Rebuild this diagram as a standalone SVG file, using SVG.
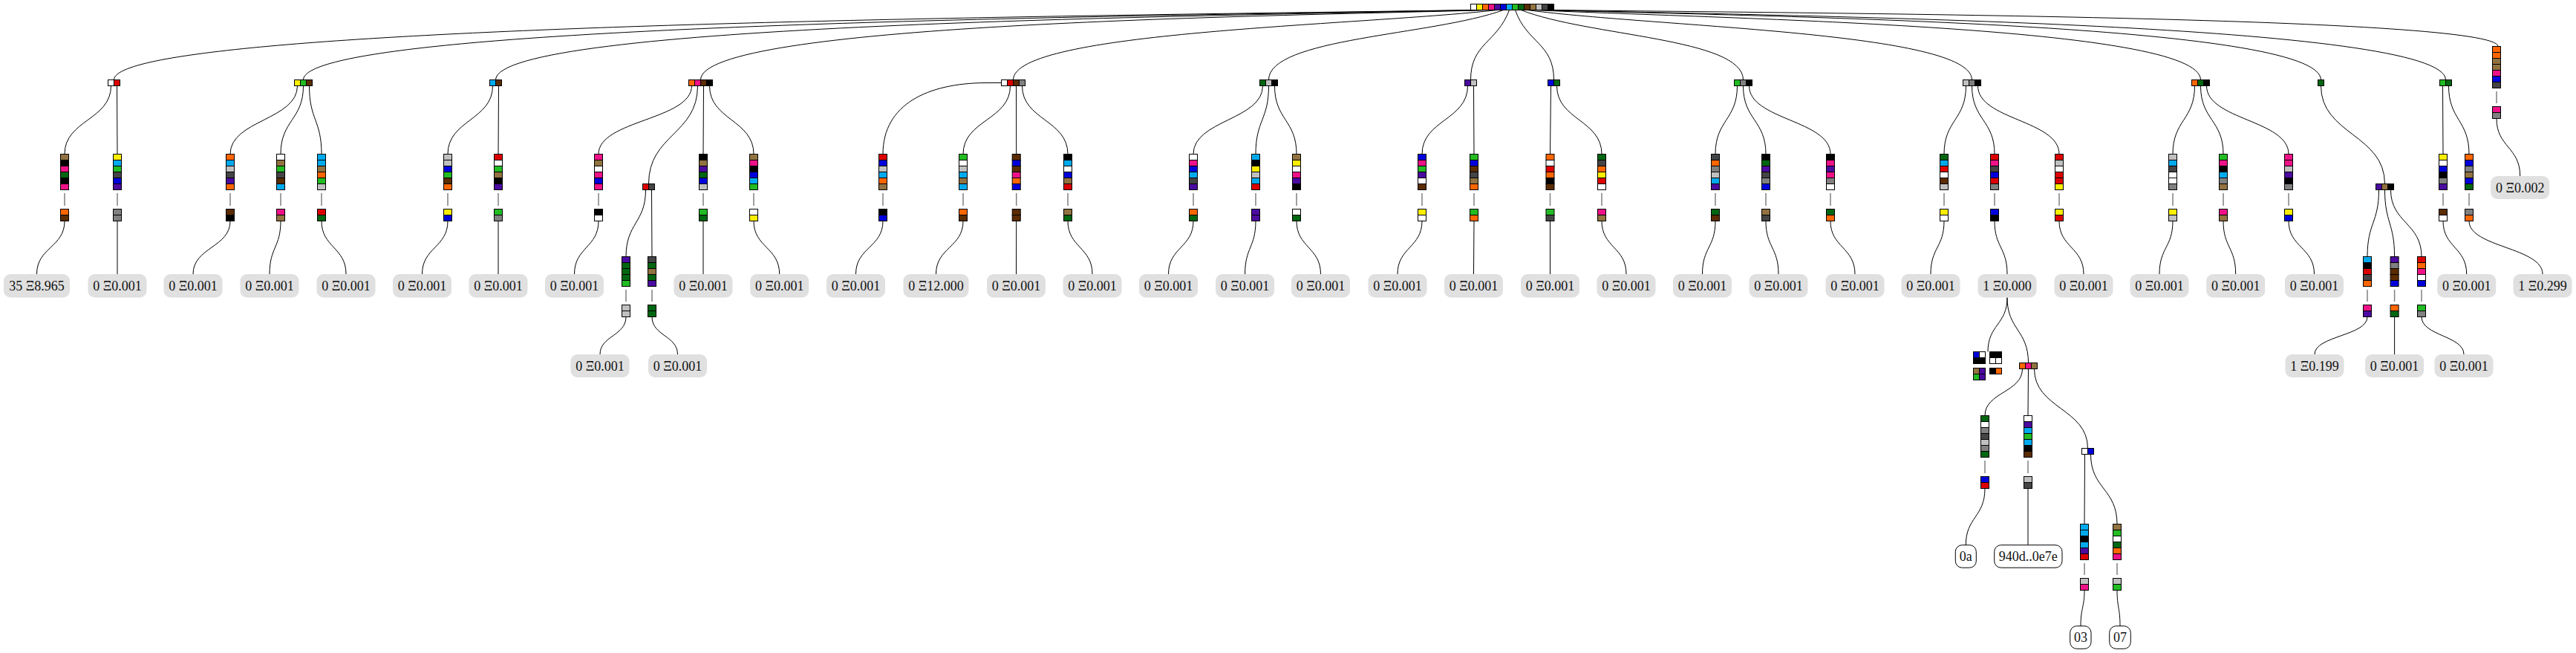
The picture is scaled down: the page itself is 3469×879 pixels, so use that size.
<svg xmlns="http://www.w3.org/2000/svg" width="3469" height="879" viewBox="0 0 3469 879">
<style>
.c{stroke:#000;stroke-width:1}
.W{fill:#fff}.Y{fill:#ffee00}.O{fill:#ff6600}.M{fill:#ee1188}.P{fill:#4b0aa0}.B{fill:#0000dd}.C{fill:#00aaee}.G{fill:#22bb22}.D{fill:#006611}.N{fill:#5a2c00}.T{fill:#917240}.L{fill:#c0c0c0}.A{fill:#808080}.K{fill:#444444}.X{fill:#000}.R{fill:#dd0000}
.e{fill:none;stroke:#000;stroke-width:1}
.sep{stroke:#808080;stroke-width:1.5}
.lb{fill:#e0e0e0}
.lw{fill:#fff;stroke:#000;stroke-width:1}
.t{font-family:"Liberation Serif","Times New Roman",serif;font-size:18px;text-anchor:middle;fill:#111}
</style>
<rect width="3469" height="879" fill="#fff"/>
<g id="edges">
<path class="e" d="M1984.5 13.5 C1435 22 153.5 32 153.5 107.5"/>
<path class="e" d="M1992.5 13.5 C1517 22 408.5 32 408.5 107.5"/>
<path class="e" d="M2000.5 13.5 C1600 22 667.5 32 667.5 107.5"/>
<path class="e" d="M2008.5 13.5 C1689 22 943.5 32 943.5 107.5"/>
<path class="e" d="M2016.5 13.5 C1821 35 1364.5 42 1364.5 107.5"/>
<path class="e" d="M2024.5 13.5 C1929 48 1708.5 51 1708.5 107.5"/>
<path class="e" d="M2032.5 13.5 C2016 58 1980.5 58 1980.5 107.5"/>
<path class="e" d="M2040.5 13.5 C2056 58 2092.5 58 2092.5 107.5"/>
<path class="e" d="M2048.5 13.5 C2138 49 2347.5 51 2347.5 107.5"/>
<path class="e" d="M2056.5 13.5 C2236 37 2655.5 43 2655.5 107.5"/>
<path class="e" d="M2064.5 13.5 C2334 26 2963.5 35 2963.5 107.5"/>
<path class="e" d="M2072.5 13.5 C2387 22 3125.5 32 3125.5 107.5"/>
<path class="e" d="M2080.5 13.5 C2444 22 3293.5 32 3293.5 107.5"/>
<path class="e" d="M2088.5 13.5 C2471 18 3364 23 3364 62.5"/>
<path class="e" d="M149.5 115.5 C149.5 161.5 87 161.5 87 207.5"/>
<path class="e" d="M157.5 115.5 L158 207.5"/>
<path class="e" d="M400.5 115.5 C400.5 161.5 310 161.5 310 207.5"/>
<path class="e" d="M408.5 115.5 C408.5 161.5 378 161.5 378 207.5"/>
<path class="e" d="M416.5 115.5 C416.5 161.5 433 161.5 433 207.5"/>
<path class="e" d="M663.5 115.5 C663.5 161.5 603 161.5 603 207.5"/>
<path class="e" d="M671.5 115.5 L671 207.5"/>
<path class="e" d="M931.5 115.5 C931.5 161.5 806 161.5 806 207.5"/>
<path class="e" d="M939.5 115.5 C939.5 181 873.5 181 873.5 247.5"/>
<path class="e" d="M947.5 115.5 L947 207.5"/>
<path class="e" d="M955.5 115.5 C955.5 161.5 1015 161.5 1015 207.5"/>
<path class="e" d="M1348.5 111.5 L1327 111.5 C1250 112 1189 140 1189 207.5"/>
<path class="e" d="M1360.5 115.5 C1360.5 161.5 1297 161.5 1297 207.5"/>
<path class="e" d="M1368.5 115.5 L1368.7 207.5"/>
<path class="e" d="M1376.5 115.5 C1376.5 161.5 1438 161.5 1438 207.5"/>
<path class="e" d="M1700.5 115.5 C1700.5 161.5 1607 161.5 1607 207.5"/>
<path class="e" d="M1708.5 115.5 C1708.5 161.5 1691 161.5 1691 207.5"/>
<path class="e" d="M1716.5 115.5 C1716.5 161.5 1746 161.5 1746 207.5"/>
<path class="e" d="M1976.5 115.5 C1976.5 161.5 1915 161.5 1915 207.5"/>
<path class="e" d="M1984.5 115.5 L1985 207.5"/>
<path class="e" d="M2088.5 115.5 L2087.5 207.5"/>
<path class="e" d="M2096.5 115.5 C2096.5 161.5 2157 161.5 2157 207.5"/>
<path class="e" d="M2339.5 115.5 C2339.5 161.5 2310 161.5 2310 207.5"/>
<path class="e" d="M2347.5 115.5 C2347.5 161.5 2378 161.5 2378 207.5"/>
<path class="e" d="M2355.5 115.5 C2355.5 161.5 2465 161.5 2465 207.5"/>
<path class="e" d="M2647.5 115.5 C2647.5 161.5 2618 161.5 2618 207.5"/>
<path class="e" d="M2655.5 115.5 C2655.5 161.5 2686 161.5 2686 207.5"/>
<path class="e" d="M2663.5 115.5 C2663.5 161.5 2773 161.5 2773 207.5"/>
<path class="e" d="M2955.5 115.5 C2955.5 161.5 2926 161.5 2926 207.5"/>
<path class="e" d="M2963.5 115.5 C2963.5 161.5 2994 161.5 2994 207.5"/>
<path class="e" d="M2971.5 115.5 C2971.5 161.5 3082 161.5 3082 207.5"/>
<path class="e" d="M3125.5 115.5 C3125.5 181 3211.5 181 3211.5 247.5"/>
<path class="e" d="M3289.5 115.5 L3290 207.5"/>
<path class="e" d="M3297.5 115.5 C3297.5 161.5 3325 161.5 3325 207.5"/>
<path class="e" d="M869.5 255.5 C869.5 300 843 300 843 345.5"/>
<path class="e" d="M877.5 255.5 L878 345.5"/>
<path class="e" d="M3203.5 255.5 C3203.5 300 3188 300 3188 345.5"/>
<path class="e" d="M3211.5 255.5 C3211.5 300 3224.6 300 3224.6 345.5"/>
<path class="e" d="M3219.5 255.5 C3219.5 300 3261 300 3261 345.5"/>
<path class="e" d="M87 297.5 C87 333 49.5 333 49.5 369"/>
<path class="e" d="M158 297.5 L158 369"/>
<path class="e" d="M310 297.5 C310 333 260 333 260 369"/>
<path class="e" d="M378 297.5 C378 333 363 333 363 369"/>
<path class="e" d="M433 297.5 C433 333 466 333 466 369"/>
<path class="e" d="M603 297.5 C603 333 568.5 333 568.5 369"/>
<path class="e" d="M671 297.5 L671 369"/>
<path class="e" d="M806 297.5 C806 333 773.5 333 773.5 369"/>
<path class="e" d="M947 297.5 L947 369"/>
<path class="e" d="M1015 297.5 C1015 333 1049.7 333 1049.7 369"/>
<path class="e" d="M1189 297.5 C1189 333 1152.5 333 1152.5 369"/>
<path class="e" d="M1297 297.5 C1297 333 1260.5 333 1260.5 369"/>
<path class="e" d="M1368.7 297.5 L1368.5 369"/>
<path class="e" d="M1438 297.5 C1438 333 1471 333 1471 369"/>
<path class="e" d="M1607 297.5 C1607 333 1573.5 333 1573.5 369"/>
<path class="e" d="M1691 297.5 C1691 333 1676.6 333 1676.6 369"/>
<path class="e" d="M1746 297.5 C1746 333 1778.5 333 1778.5 369"/>
<path class="e" d="M1915 297.5 C1915 333 1882 333 1882 369"/>
<path class="e" d="M1985 297.5 L1984.5 369"/>
<path class="e" d="M2087.5 297.5 L2087.5 369"/>
<path class="e" d="M2157 297.5 C2157 333 2190 333 2190 369"/>
<path class="e" d="M2310 297.5 C2310 333 2292.5 333 2292.5 369"/>
<path class="e" d="M2378 297.5 C2378 333 2395 333 2395 369"/>
<path class="e" d="M2465 297.5 C2465 333 2498 333 2498 369"/>
<path class="e" d="M2618 297.5 C2618 333 2600 333 2600 369"/>
<path class="e" d="M2686 297.5 C2686 333 2703 333 2703 369"/>
<path class="e" d="M2773 297.5 C2773 333 2806 333 2806 369"/>
<path class="e" d="M2926 297.5 C2926 333 2908 333 2908 369"/>
<path class="e" d="M2994 297.5 C2994 333 3010.7 333 3010.7 369"/>
<path class="e" d="M3082 297.5 C3082 333 3116.5 333 3116.5 369"/>
<path class="e" d="M3290 297.5 C3290 333 3321.7 333 3321.7 369"/>
<path class="e" d="M3325 297.5 C3325 333 3424 333 3424 369"/>
<path class="e" d="M3362 159.5 C3362 198 3393.7 198 3393.7 237"/>
<path class="e" d="M843 426.5 C843 452 808 452 808 477"/>
<path class="e" d="M878 426.5 C878 452 912.5 452 912.5 477"/>
<path class="e" d="M3188 426.5 C3188 452 3117 452 3117 477"/>
<path class="e" d="M3224.6 426.5 L3224.6 477"/>
<path class="e" d="M3261 426.5 C3261 452 3318 452 3318 477"/>
<path class="e" d="M2703 400.5 C2703 437 2677 437 2677 473.5"/>
<path class="e" d="M2703 400.5 C2703 444 2731.5 444 2731.5 488.5"/>
<path class="e" d="M2723.5 496.5 C2723.5 528 2673 528 2673 559.5"/>
<path class="e" d="M2731.5 496.5 L2731 559.5"/>
<path class="e" d="M2739.5 496.5 C2739.5 550 2811.5 550 2811.5 603.5"/>
<path class="e" d="M2807.5 611.5 L2807 705.5"/>
<path class="e" d="M2815.5 611.5 C2815.5 658 2851 658 2851 705.5"/>
<path class="e" d="M2673 657.5 C2673 696 2647.3 696 2647.3 733.7"/>
<path class="e" d="M2731 657.5 L2731 733.7"/>
<path class="e" d="M2807 794.5 C2807 818 2802 818 2802 842.7"/>
<path class="e" d="M2851 794.5 C2851 818 2855 818 2855 842.7"/>
</g>
<g id="root">
<rect class="c W" x="1980.5" y="5.5" width="8" height="8"/><rect class="c Y" x="1988.5" y="5.5" width="8" height="8"/><rect class="c O" x="1996.5" y="5.5" width="8" height="8"/><rect class="c M" x="2004.5" y="5.5" width="8" height="8"/><rect class="c P" x="2012.5" y="5.5" width="8" height="8"/><rect class="c B" x="2020.5" y="5.5" width="8" height="8"/><rect class="c C" x="2028.5" y="5.5" width="8" height="8"/><rect class="c G" x="2036.5" y="5.5" width="8" height="8"/><rect class="c D" x="2044.5" y="5.5" width="8" height="8"/><rect class="c N" x="2052.5" y="5.5" width="8" height="8"/><rect class="c T" x="2060.5" y="5.5" width="8" height="8"/><rect class="c L" x="2068.5" y="5.5" width="8" height="8"/><rect class="c K" x="2076.5" y="5.5" width="8" height="8"/><rect class="c X" x="2084.5" y="5.5" width="8" height="8"/>
</g>
<g id="n1"><rect class="c W" x="145.5" y="107.5" width="8" height="8"/><rect class="c R" x="153.5" y="107.5" width="8" height="8"/></g>
<g id="n2"><rect class="c Y" x="396.5" y="107.5" width="8" height="8"/><rect class="c G" x="404.5" y="107.5" width="8" height="8"/><rect class="c N" x="412.5" y="107.5" width="8" height="8"/></g>
<g id="n3"><rect class="c C" x="659.5" y="107.5" width="8" height="8"/><rect class="c N" x="667.5" y="107.5" width="8" height="8"/></g>
<g id="n4"><rect class="c O" x="927.5" y="107.5" width="8" height="8"/><rect class="c M" x="935.5" y="107.5" width="8" height="8"/><rect class="c N" x="943.5" y="107.5" width="8" height="8"/><rect class="c X" x="951.5" y="107.5" width="8" height="8"/></g>
<g id="n5"><rect class="c W" x="1348.5" y="107.5" width="8" height="8"/><rect class="c R" x="1356.5" y="107.5" width="8" height="8"/><rect class="c N" x="1364.5" y="107.5" width="8" height="8"/><rect class="c A" x="1372.5" y="107.5" width="8" height="8"/></g>
<g id="n6"><rect class="c D" x="1696.5" y="107.5" width="8" height="8"/><rect class="c L" x="1704.5" y="107.5" width="8" height="8"/><rect class="c X" x="1712.5" y="107.5" width="8" height="8"/></g>
<g id="n7"><rect class="c P" x="1972.5" y="107.5" width="8" height="8"/><rect class="c L" x="1980.5" y="107.5" width="8" height="8"/></g>
<g id="n8"><rect class="c B" x="2084.5" y="107.5" width="8" height="8"/><rect class="c D" x="2092.5" y="107.5" width="8" height="8"/></g>
<g id="n9"><rect class="c G" x="2335.5" y="107.5" width="8" height="8"/><rect class="c A" x="2343.5" y="107.5" width="8" height="8"/><rect class="c X" x="2351.5" y="107.5" width="8" height="8"/></g>
<g id="n10"><rect class="c L" x="2643.5" y="107.5" width="8" height="8"/><rect class="c A" x="2651.5" y="107.5" width="8" height="8"/><rect class="c X" x="2659.5" y="107.5" width="8" height="8"/></g>
<g id="n11"><rect class="c O" x="2951.5" y="107.5" width="8" height="8"/><rect class="c D" x="2959.5" y="107.5" width="8" height="8"/><rect class="c X" x="2967.5" y="107.5" width="8" height="8"/></g>
<g id="n12"><rect class="c D" x="3121.5" y="107.5" width="8" height="8"/></g>
<g id="n13"><rect class="c G" x="3285.5" y="107.5" width="8" height="8"/><rect class="c D" x="3293.5" y="107.5" width="8" height="8"/></g>
<g id="d2"><rect class="c R" x="865.5" y="247.5" width="8" height="8"/><rect class="c K" x="873.5" y="247.5" width="8" height="8"/></g>
<g id="o"><rect class="c P" x="3199.5" y="247.5" width="8" height="8"/><rect class="c T" x="3207.5" y="247.5" width="8" height="8"/><rect class="c X" x="3215.5" y="247.5" width="8" height="8"/></g>
<g id="s14" transform="translate(3362,0)"><rect class="c O" x="-5.5" y="62.5" width="11" height="8"/><rect class="c O" x="-5.5" y="70.5" width="11" height="8"/><rect class="c T" x="-5.5" y="78.5" width="11" height="8"/><rect class="c T" x="-5.5" y="86.5" width="11" height="8"/><rect class="c M" x="-5.5" y="94.5" width="11" height="8"/><rect class="c B" x="-5.5" y="102.5" width="11" height="8"/><rect class="c K" x="-5.5" y="110.5" width="11" height="8"/><line class="sep" x1="0" y1="123" x2="0" y2="139"/><rect class="c M" x="-5.5" y="143.5" width="11" height="8"/><rect class="c A" x="-5.5" y="151.5" width="11" height="8"/></g>
<g id="a1" transform="translate(87,0)"><rect class="c T" x="-5.5" y="207.5" width="11" height="8"/><rect class="c X" x="-5.5" y="215.5" width="11" height="8"/><rect class="c M" x="-5.5" y="223.5" width="11" height="8"/><rect class="c D" x="-5.5" y="231.5" width="11" height="8"/><rect class="c X" x="-5.5" y="239.5" width="11" height="8"/><rect class="c M" x="-5.5" y="247.5" width="11" height="8"/><line class="sep" x1="0" y1="260" x2="0" y2="277"/><rect class="c O" x="-5.5" y="281.5" width="11" height="8"/><rect class="c N" x="-5.5" y="289.5" width="11" height="8"/></g>
<g id="a2" transform="translate(158,0)"><rect class="c Y" x="-5.5" y="207.5" width="11" height="8"/><rect class="c C" x="-5.5" y="215.5" width="11" height="8"/><rect class="c G" x="-5.5" y="223.5" width="11" height="8"/><rect class="c K" x="-5.5" y="231.5" width="11" height="8"/><rect class="c B" x="-5.5" y="239.5" width="11" height="8"/><rect class="c P" x="-5.5" y="247.5" width="11" height="8"/><line class="sep" x1="0" y1="260" x2="0" y2="277"/><rect class="c A" x="-5.5" y="281.5" width="11" height="8"/><rect class="c A" x="-5.5" y="289.5" width="11" height="8"/></g>
<g id="b1" transform="translate(310,0)"><rect class="c O" x="-5.5" y="207.5" width="11" height="8"/><rect class="c C" x="-5.5" y="215.5" width="11" height="8"/><rect class="c L" x="-5.5" y="223.5" width="11" height="8"/><rect class="c K" x="-5.5" y="231.5" width="11" height="8"/><rect class="c P" x="-5.5" y="239.5" width="11" height="8"/><rect class="c O" x="-5.5" y="247.5" width="11" height="8"/><line class="sep" x1="0" y1="260" x2="0" y2="277"/><rect class="c N" x="-5.5" y="281.5" width="11" height="8"/><rect class="c X" x="-5.5" y="289.5" width="11" height="8"/></g>
<g id="b2" transform="translate(378,0)"><rect class="c W" x="-5.5" y="207.5" width="11" height="8"/><rect class="c T" x="-5.5" y="215.5" width="11" height="8"/><rect class="c G" x="-5.5" y="223.5" width="11" height="8"/><rect class="c K" x="-5.5" y="231.5" width="11" height="8"/><rect class="c N" x="-5.5" y="239.5" width="11" height="8"/><rect class="c C" x="-5.5" y="247.5" width="11" height="8"/><line class="sep" x1="0" y1="260" x2="0" y2="277"/><rect class="c M" x="-5.5" y="281.5" width="11" height="8"/><rect class="c T" x="-5.5" y="289.5" width="11" height="8"/></g>
<g id="b3" transform="translate(433,0)"><rect class="c C" x="-5.5" y="207.5" width="11" height="8"/><rect class="c C" x="-5.5" y="215.5" width="11" height="8"/><rect class="c T" x="-5.5" y="223.5" width="11" height="8"/><rect class="c O" x="-5.5" y="231.5" width="11" height="8"/><rect class="c G" x="-5.5" y="239.5" width="11" height="8"/><rect class="c L" x="-5.5" y="247.5" width="11" height="8"/><line class="sep" x1="0" y1="260" x2="0" y2="277"/><rect class="c R" x="-5.5" y="281.5" width="11" height="8"/><rect class="c D" x="-5.5" y="289.5" width="11" height="8"/></g>
<g id="c1" transform="translate(603,0)"><rect class="c L" x="-5.5" y="207.5" width="11" height="8"/><rect class="c L" x="-5.5" y="215.5" width="11" height="8"/><rect class="c B" x="-5.5" y="223.5" width="11" height="8"/><rect class="c G" x="-5.5" y="231.5" width="11" height="8"/><rect class="c N" x="-5.5" y="239.5" width="11" height="8"/><rect class="c O" x="-5.5" y="247.5" width="11" height="8"/><line class="sep" x1="0" y1="260" x2="0" y2="277"/><rect class="c Y" x="-5.5" y="281.5" width="11" height="8"/><rect class="c B" x="-5.5" y="289.5" width="11" height="8"/></g>
<g id="c2" transform="translate(671,0)"><rect class="c R" x="-5.5" y="207.5" width="11" height="8"/><rect class="c W" x="-5.5" y="215.5" width="11" height="8"/><rect class="c G" x="-5.5" y="223.5" width="11" height="8"/><rect class="c T" x="-5.5" y="231.5" width="11" height="8"/><rect class="c X" x="-5.5" y="239.5" width="11" height="8"/><rect class="c P" x="-5.5" y="247.5" width="11" height="8"/><line class="sep" x1="0" y1="260" x2="0" y2="277"/><rect class="c G" x="-5.5" y="281.5" width="11" height="8"/><rect class="c A" x="-5.5" y="289.5" width="11" height="8"/></g>
<g id="d1" transform="translate(806,0)"><rect class="c M" x="-5.5" y="207.5" width="11" height="8"/><rect class="c T" x="-5.5" y="215.5" width="11" height="8"/><rect class="c W" x="-5.5" y="223.5" width="11" height="8"/><rect class="c M" x="-5.5" y="231.5" width="11" height="8"/><rect class="c B" x="-5.5" y="239.5" width="11" height="8"/><rect class="c M" x="-5.5" y="247.5" width="11" height="8"/><line class="sep" x1="0" y1="260" x2="0" y2="277"/><rect class="c X" x="-5.5" y="281.5" width="11" height="8"/><rect class="c W" x="-5.5" y="289.5" width="11" height="8"/></g>
<g id="d3" transform="translate(947,0)"><rect class="c X" x="-5.5" y="207.5" width="11" height="8"/><rect class="c T" x="-5.5" y="215.5" width="11" height="8"/><rect class="c P" x="-5.5" y="223.5" width="11" height="8"/><rect class="c D" x="-5.5" y="231.5" width="11" height="8"/><rect class="c B" x="-5.5" y="239.5" width="11" height="8"/><rect class="c L" x="-5.5" y="247.5" width="11" height="8"/><line class="sep" x1="0" y1="260" x2="0" y2="277"/><rect class="c G" x="-5.5" y="281.5" width="11" height="8"/><rect class="c D" x="-5.5" y="289.5" width="11" height="8"/></g>
<g id="d4" transform="translate(1015,0)"><rect class="c T" x="-5.5" y="207.5" width="11" height="8"/><rect class="c M" x="-5.5" y="215.5" width="11" height="8"/><rect class="c X" x="-5.5" y="223.5" width="11" height="8"/><rect class="c B" x="-5.5" y="231.5" width="11" height="8"/><rect class="c C" x="-5.5" y="239.5" width="11" height="8"/><rect class="c G" x="-5.5" y="247.5" width="11" height="8"/><line class="sep" x1="0" y1="260" x2="0" y2="277"/><rect class="c W" x="-5.5" y="281.5" width="11" height="8"/><rect class="c Y" x="-5.5" y="289.5" width="11" height="8"/></g>
<g id="e1" transform="translate(1189,0)"><rect class="c R" x="-5.5" y="207.5" width="11" height="8"/><rect class="c B" x="-5.5" y="215.5" width="11" height="8"/><rect class="c L" x="-5.5" y="223.5" width="11" height="8"/><rect class="c C" x="-5.5" y="231.5" width="11" height="8"/><rect class="c O" x="-5.5" y="239.5" width="11" height="8"/><rect class="c T" x="-5.5" y="247.5" width="11" height="8"/><line class="sep" x1="0" y1="260" x2="0" y2="277"/><rect class="c X" x="-5.5" y="281.5" width="11" height="8"/><rect class="c B" x="-5.5" y="289.5" width="11" height="8"/></g>
<g id="e2" transform="translate(1297,0)"><rect class="c G" x="-5.5" y="207.5" width="11" height="8"/><rect class="c W" x="-5.5" y="215.5" width="11" height="8"/><rect class="c L" x="-5.5" y="223.5" width="11" height="8"/><rect class="c C" x="-5.5" y="231.5" width="11" height="8"/><rect class="c T" x="-5.5" y="239.5" width="11" height="8"/><rect class="c C" x="-5.5" y="247.5" width="11" height="8"/><line class="sep" x1="0" y1="260" x2="0" y2="277"/><rect class="c O" x="-5.5" y="281.5" width="11" height="8"/><rect class="c N" x="-5.5" y="289.5" width="11" height="8"/></g>
<g id="e3" transform="translate(1368.7,0)"><rect class="c N" x="-5.5" y="207.5" width="11" height="8"/><rect class="c B" x="-5.5" y="215.5" width="11" height="8"/><rect class="c N" x="-5.5" y="223.5" width="11" height="8"/><rect class="c M" x="-5.5" y="231.5" width="11" height="8"/><rect class="c O" x="-5.5" y="239.5" width="11" height="8"/><rect class="c B" x="-5.5" y="247.5" width="11" height="8"/><line class="sep" x1="0" y1="260" x2="0" y2="277"/><rect class="c N" x="-5.5" y="281.5" width="11" height="8"/><rect class="c N" x="-5.5" y="289.5" width="11" height="8"/></g>
<g id="e4" transform="translate(1438,0)"><rect class="c X" x="-5.5" y="207.5" width="11" height="8"/><rect class="c C" x="-5.5" y="215.5" width="11" height="8"/><rect class="c W" x="-5.5" y="223.5" width="11" height="8"/><rect class="c B" x="-5.5" y="231.5" width="11" height="8"/><rect class="c T" x="-5.5" y="239.5" width="11" height="8"/><rect class="c R" x="-5.5" y="247.5" width="11" height="8"/><line class="sep" x1="0" y1="260" x2="0" y2="277"/><rect class="c T" x="-5.5" y="281.5" width="11" height="8"/><rect class="c D" x="-5.5" y="289.5" width="11" height="8"/></g>
<g id="f1" transform="translate(1607,0)"><rect class="c W" x="-5.5" y="207.5" width="11" height="8"/><rect class="c M" x="-5.5" y="215.5" width="11" height="8"/><rect class="c B" x="-5.5" y="223.5" width="11" height="8"/><rect class="c C" x="-5.5" y="231.5" width="11" height="8"/><rect class="c K" x="-5.5" y="239.5" width="11" height="8"/><rect class="c P" x="-5.5" y="247.5" width="11" height="8"/><line class="sep" x1="0" y1="260" x2="0" y2="277"/><rect class="c O" x="-5.5" y="281.5" width="11" height="8"/><rect class="c D" x="-5.5" y="289.5" width="11" height="8"/></g>
<g id="f2" transform="translate(1691,0)"><rect class="c C" x="-5.5" y="207.5" width="11" height="8"/><rect class="c X" x="-5.5" y="215.5" width="11" height="8"/><rect class="c Y" x="-5.5" y="223.5" width="11" height="8"/><rect class="c L" x="-5.5" y="231.5" width="11" height="8"/><rect class="c C" x="-5.5" y="239.5" width="11" height="8"/><rect class="c R" x="-5.5" y="247.5" width="11" height="8"/><line class="sep" x1="0" y1="260" x2="0" y2="277"/><rect class="c P" x="-5.5" y="281.5" width="11" height="8"/><rect class="c P" x="-5.5" y="289.5" width="11" height="8"/></g>
<g id="f3" transform="translate(1746,0)"><rect class="c T" x="-5.5" y="207.5" width="11" height="8"/><rect class="c Y" x="-5.5" y="215.5" width="11" height="8"/><rect class="c W" x="-5.5" y="223.5" width="11" height="8"/><rect class="c M" x="-5.5" y="231.5" width="11" height="8"/><rect class="c P" x="-5.5" y="239.5" width="11" height="8"/><rect class="c X" x="-5.5" y="247.5" width="11" height="8"/><line class="sep" x1="0" y1="260" x2="0" y2="277"/><rect class="c W" x="-5.5" y="281.5" width="11" height="8"/><rect class="c D" x="-5.5" y="289.5" width="11" height="8"/></g>
<g id="g1" transform="translate(1915,0)"><rect class="c B" x="-5.5" y="207.5" width="11" height="8"/><rect class="c M" x="-5.5" y="215.5" width="11" height="8"/><rect class="c G" x="-5.5" y="223.5" width="11" height="8"/><rect class="c P" x="-5.5" y="231.5" width="11" height="8"/><rect class="c W" x="-5.5" y="239.5" width="11" height="8"/><rect class="c N" x="-5.5" y="247.5" width="11" height="8"/><line class="sep" x1="0" y1="260" x2="0" y2="277"/><rect class="c Y" x="-5.5" y="281.5" width="11" height="8"/><rect class="c W" x="-5.5" y="289.5" width="11" height="8"/></g>
<g id="g2" transform="translate(1985,0)"><rect class="c G" x="-5.5" y="207.5" width="11" height="8"/><rect class="c B" x="-5.5" y="215.5" width="11" height="8"/><rect class="c N" x="-5.5" y="223.5" width="11" height="8"/><rect class="c K" x="-5.5" y="231.5" width="11" height="8"/><rect class="c T" x="-5.5" y="239.5" width="11" height="8"/><rect class="c O" x="-5.5" y="247.5" width="11" height="8"/><line class="sep" x1="0" y1="260" x2="0" y2="277"/><rect class="c G" x="-5.5" y="281.5" width="11" height="8"/><rect class="c O" x="-5.5" y="289.5" width="11" height="8"/></g>
<g id="h1" transform="translate(2087.5,0)"><rect class="c O" x="-5.5" y="207.5" width="11" height="8"/><rect class="c W" x="-5.5" y="215.5" width="11" height="8"/><rect class="c R" x="-5.5" y="223.5" width="11" height="8"/><rect class="c O" x="-5.5" y="231.5" width="11" height="8"/><rect class="c X" x="-5.5" y="239.5" width="11" height="8"/><rect class="c N" x="-5.5" y="247.5" width="11" height="8"/><line class="sep" x1="0" y1="260" x2="0" y2="277"/><rect class="c G" x="-5.5" y="281.5" width="11" height="8"/><rect class="c K" x="-5.5" y="289.5" width="11" height="8"/></g>
<g id="h2" transform="translate(2157,0)"><rect class="c D" x="-5.5" y="207.5" width="11" height="8"/><rect class="c K" x="-5.5" y="215.5" width="11" height="8"/><rect class="c O" x="-5.5" y="223.5" width="11" height="8"/><rect class="c Y" x="-5.5" y="231.5" width="11" height="8"/><rect class="c R" x="-5.5" y="239.5" width="11" height="8"/><rect class="c W" x="-5.5" y="247.5" width="11" height="8"/><line class="sep" x1="0" y1="260" x2="0" y2="277"/><rect class="c M" x="-5.5" y="281.5" width="11" height="8"/><rect class="c T" x="-5.5" y="289.5" width="11" height="8"/></g>
<g id="i1" transform="translate(2310,0)"><rect class="c K" x="-5.5" y="207.5" width="11" height="8"/><rect class="c O" x="-5.5" y="215.5" width="11" height="8"/><rect class="c A" x="-5.5" y="223.5" width="11" height="8"/><rect class="c L" x="-5.5" y="231.5" width="11" height="8"/><rect class="c C" x="-5.5" y="239.5" width="11" height="8"/><rect class="c P" x="-5.5" y="247.5" width="11" height="8"/><line class="sep" x1="0" y1="260" x2="0" y2="277"/><rect class="c D" x="-5.5" y="281.5" width="11" height="8"/><rect class="c N" x="-5.5" y="289.5" width="11" height="8"/></g>
<g id="i2" transform="translate(2378,0)"><rect class="c X" x="-5.5" y="207.5" width="11" height="8"/><rect class="c D" x="-5.5" y="215.5" width="11" height="8"/><rect class="c P" x="-5.5" y="223.5" width="11" height="8"/><rect class="c K" x="-5.5" y="231.5" width="11" height="8"/><rect class="c A" x="-5.5" y="239.5" width="11" height="8"/><rect class="c B" x="-5.5" y="247.5" width="11" height="8"/><line class="sep" x1="0" y1="260" x2="0" y2="277"/><rect class="c T" x="-5.5" y="281.5" width="11" height="8"/><rect class="c K" x="-5.5" y="289.5" width="11" height="8"/></g>
<g id="i3" transform="translate(2465,0)"><rect class="c X" x="-5.5" y="207.5" width="11" height="8"/><rect class="c M" x="-5.5" y="215.5" width="11" height="8"/><rect class="c P" x="-5.5" y="223.5" width="11" height="8"/><rect class="c M" x="-5.5" y="231.5" width="11" height="8"/><rect class="c A" x="-5.5" y="239.5" width="11" height="8"/><rect class="c W" x="-5.5" y="247.5" width="11" height="8"/><line class="sep" x1="0" y1="260" x2="0" y2="277"/><rect class="c D" x="-5.5" y="281.5" width="11" height="8"/><rect class="c O" x="-5.5" y="289.5" width="11" height="8"/></g>
<g id="j1" transform="translate(2618,0)"><rect class="c D" x="-5.5" y="207.5" width="11" height="8"/><rect class="c C" x="-5.5" y="215.5" width="11" height="8"/><rect class="c R" x="-5.5" y="223.5" width="11" height="8"/><rect class="c W" x="-5.5" y="231.5" width="11" height="8"/><rect class="c N" x="-5.5" y="239.5" width="11" height="8"/><rect class="c L" x="-5.5" y="247.5" width="11" height="8"/><line class="sep" x1="0" y1="260" x2="0" y2="277"/><rect class="c Y" x="-5.5" y="281.5" width="11" height="8"/><rect class="c W" x="-5.5" y="289.5" width="11" height="8"/></g>
<g id="j2" transform="translate(2686,0)"><rect class="c R" x="-5.5" y="207.5" width="11" height="8"/><rect class="c M" x="-5.5" y="215.5" width="11" height="8"/><rect class="c K" x="-5.5" y="223.5" width="11" height="8"/><rect class="c B" x="-5.5" y="231.5" width="11" height="8"/><rect class="c R" x="-5.5" y="239.5" width="11" height="8"/><rect class="c A" x="-5.5" y="247.5" width="11" height="8"/><line class="sep" x1="0" y1="260" x2="0" y2="277"/><rect class="c B" x="-5.5" y="281.5" width="11" height="8"/><rect class="c X" x="-5.5" y="289.5" width="11" height="8"/></g>
<g id="j3" transform="translate(2773,0)"><rect class="c R" x="-5.5" y="207.5" width="11" height="8"/><rect class="c L" x="-5.5" y="215.5" width="11" height="8"/><rect class="c W" x="-5.5" y="223.5" width="11" height="8"/><rect class="c R" x="-5.5" y="231.5" width="11" height="8"/><rect class="c R" x="-5.5" y="239.5" width="11" height="8"/><rect class="c Y" x="-5.5" y="247.5" width="11" height="8"/><line class="sep" x1="0" y1="260" x2="0" y2="277"/><rect class="c Y" x="-5.5" y="281.5" width="11" height="8"/><rect class="c R" x="-5.5" y="289.5" width="11" height="8"/></g>
<g id="k1" transform="translate(2926,0)"><rect class="c L" x="-5.5" y="207.5" width="11" height="8"/><rect class="c C" x="-5.5" y="215.5" width="11" height="8"/><rect class="c K" x="-5.5" y="223.5" width="11" height="8"/><rect class="c W" x="-5.5" y="231.5" width="11" height="8"/><rect class="c W" x="-5.5" y="239.5" width="11" height="8"/><rect class="c A" x="-5.5" y="247.5" width="11" height="8"/><line class="sep" x1="0" y1="260" x2="0" y2="277"/><rect class="c Y" x="-5.5" y="281.5" width="11" height="8"/><rect class="c L" x="-5.5" y="289.5" width="11" height="8"/></g>
<g id="k2" transform="translate(2994,0)"><rect class="c G" x="-5.5" y="207.5" width="11" height="8"/><rect class="c M" x="-5.5" y="215.5" width="11" height="8"/><rect class="c X" x="-5.5" y="223.5" width="11" height="8"/><rect class="c C" x="-5.5" y="231.5" width="11" height="8"/><rect class="c A" x="-5.5" y="239.5" width="11" height="8"/><rect class="c T" x="-5.5" y="247.5" width="11" height="8"/><line class="sep" x1="0" y1="260" x2="0" y2="277"/><rect class="c M" x="-5.5" y="281.5" width="11" height="8"/><rect class="c T" x="-5.5" y="289.5" width="11" height="8"/></g>
<g id="k3" transform="translate(3082,0)"><rect class="c M" x="-5.5" y="207.5" width="11" height="8"/><rect class="c M" x="-5.5" y="215.5" width="11" height="8"/><rect class="c L" x="-5.5" y="223.5" width="11" height="8"/><rect class="c P" x="-5.5" y="231.5" width="11" height="8"/><rect class="c X" x="-5.5" y="239.5" width="11" height="8"/><rect class="c A" x="-5.5" y="247.5" width="11" height="8"/><line class="sep" x1="0" y1="260" x2="0" y2="277"/><rect class="c Y" x="-5.5" y="281.5" width="11" height="8"/><rect class="c B" x="-5.5" y="289.5" width="11" height="8"/></g>
<g id="p1" transform="translate(3290,0)"><rect class="c Y" x="-5.5" y="207.5" width="11" height="8"/><rect class="c W" x="-5.5" y="215.5" width="11" height="8"/><rect class="c B" x="-5.5" y="223.5" width="11" height="8"/><rect class="c X" x="-5.5" y="231.5" width="11" height="8"/><rect class="c A" x="-5.5" y="239.5" width="11" height="8"/><rect class="c P" x="-5.5" y="247.5" width="11" height="8"/><line class="sep" x1="0" y1="260" x2="0" y2="277"/><rect class="c N" x="-5.5" y="281.5" width="11" height="8"/><rect class="c W" x="-5.5" y="289.5" width="11" height="8"/></g>
<g id="p2" transform="translate(3325,0)"><rect class="c O" x="-5.5" y="207.5" width="11" height="8"/><rect class="c B" x="-5.5" y="215.5" width="11" height="8"/><rect class="c A" x="-5.5" y="223.5" width="11" height="8"/><rect class="c T" x="-5.5" y="231.5" width="11" height="8"/><rect class="c B" x="-5.5" y="239.5" width="11" height="8"/><rect class="c D" x="-5.5" y="247.5" width="11" height="8"/><line class="sep" x1="0" y1="260" x2="0" y2="277"/><rect class="c A" x="-5.5" y="281.5" width="11" height="8"/><rect class="c O" x="-5.5" y="289.5" width="11" height="8"/></g>
<g id="d2a" transform="translate(843,0)"><rect class="c P" x="-5.5" y="345.5" width="11" height="8"/><rect class="c D" x="-5.5" y="353.5" width="11" height="8"/><rect class="c D" x="-5.5" y="361.5" width="11" height="8"/><rect class="c D" x="-5.5" y="369.5" width="11" height="8"/><rect class="c G" x="-5.5" y="377.5" width="11" height="8"/><line class="sep" x1="0" y1="390" x2="0" y2="406"/><rect class="c L" x="-5.5" y="410.5" width="11" height="8"/><rect class="c L" x="-5.5" y="418.5" width="11" height="8"/></g>
<g id="d2b" transform="translate(878,0)"><rect class="c K" x="-5.5" y="345.5" width="11" height="8"/><rect class="c D" x="-5.5" y="353.5" width="11" height="8"/><rect class="c T" x="-5.5" y="361.5" width="11" height="8"/><rect class="c D" x="-5.5" y="369.5" width="11" height="8"/><rect class="c P" x="-5.5" y="377.5" width="11" height="8"/><line class="sep" x1="0" y1="390" x2="0" y2="406"/><rect class="c D" x="-5.5" y="410.5" width="11" height="8"/><rect class="c D" x="-5.5" y="418.5" width="11" height="8"/></g>
<g id="o1" transform="translate(3188,0)"><rect class="c C" x="-5.5" y="345.5" width="11" height="8"/><rect class="c X" x="-5.5" y="353.5" width="11" height="8"/><rect class="c R" x="-5.5" y="361.5" width="11" height="8"/><rect class="c K" x="-5.5" y="369.5" width="11" height="8"/><rect class="c O" x="-5.5" y="377.5" width="11" height="8"/><line class="sep" x1="0" y1="390" x2="0" y2="406"/><rect class="c M" x="-5.5" y="410.5" width="11" height="8"/><rect class="c P" x="-5.5" y="418.5" width="11" height="8"/></g>
<g id="o2" transform="translate(3224.6,0)"><rect class="c P" x="-5.5" y="345.5" width="11" height="8"/><rect class="c A" x="-5.5" y="353.5" width="11" height="8"/><rect class="c N" x="-5.5" y="361.5" width="11" height="8"/><rect class="c N" x="-5.5" y="369.5" width="11" height="8"/><rect class="c B" x="-5.5" y="377.5" width="11" height="8"/><line class="sep" x1="0" y1="390" x2="0" y2="406"/><rect class="c O" x="-5.5" y="410.5" width="11" height="8"/><rect class="c D" x="-5.5" y="418.5" width="11" height="8"/></g>
<g id="o3" transform="translate(3261,0)"><rect class="c R" x="-5.5" y="345.5" width="11" height="8"/><rect class="c O" x="-5.5" y="353.5" width="11" height="8"/><rect class="c M" x="-5.5" y="361.5" width="11" height="8"/><rect class="c W" x="-5.5" y="369.5" width="11" height="8"/><rect class="c B" x="-5.5" y="377.5" width="11" height="8"/><line class="sep" x1="0" y1="390" x2="0" y2="406"/><rect class="c G" x="-5.5" y="410.5" width="11" height="8"/><rect class="c A" x="-5.5" y="418.5" width="11" height="8"/></g>
<g id="grid">
<rect class="c B" x="2657.5" y="473.5" width="8" height="8"/><rect class="c W" x="2665.5" y="473.5" width="8" height="8"/><rect class="c X" x="2657.5" y="481.5" width="16" height="8"/>
<rect class="c X" x="2679.5" y="473.5" width="16" height="8"/><rect class="c W" x="2679.5" y="481.5" width="8" height="8"/><rect class="c W" x="2687.5" y="481.5" width="8" height="8"/>
<rect class="c T" x="2657.5" y="495.5" width="8" height="8"/><rect class="c P" x="2665.5" y="495.5" width="8" height="8"/><rect class="c G" x="2657.5" y="503.5" width="8" height="8"/><rect class="c P" x="2665.5" y="503.5" width="8" height="8"/>
<rect class="c X" x="2679.5" y="495.5" width="8" height="8"/><rect class="c O" x="2687.5" y="495.5" width="8" height="8"/>
</g>
<g id="k2n"><rect class="c O" x="2719.5" y="488.5" width="8" height="8"/><rect class="c M" x="2727.5" y="488.5" width="8" height="8"/><rect class="c T" x="2735.5" y="488.5" width="8" height="8"/></g>
<g id="l1" transform="translate(2673,0)"><rect class="c D" x="-5.5" y="559.5" width="11" height="8"/><rect class="c W" x="-5.5" y="567.5" width="11" height="8"/><rect class="c A" x="-5.5" y="575.5" width="11" height="8"/><rect class="c K" x="-5.5" y="583.5" width="11" height="8"/><rect class="c L" x="-5.5" y="591.5" width="11" height="8"/><rect class="c A" x="-5.5" y="599.5" width="11" height="8"/><rect class="c D" x="-5.5" y="607.5" width="11" height="8"/><line class="sep" x1="0" y1="620" x2="0" y2="637"/><rect class="c B" x="-5.5" y="641.5" width="11" height="8"/><rect class="c R" x="-5.5" y="649.5" width="11" height="8"/></g>
<g id="l2" transform="translate(2731,0)"><rect class="c W" x="-5.5" y="559.5" width="11" height="8"/><rect class="c P" x="-5.5" y="567.5" width="11" height="8"/><rect class="c C" x="-5.5" y="575.5" width="11" height="8"/><rect class="c G" x="-5.5" y="583.5" width="11" height="8"/><rect class="c C" x="-5.5" y="591.5" width="11" height="8"/><rect class="c X" x="-5.5" y="599.5" width="11" height="8"/><rect class="c N" x="-5.5" y="607.5" width="11" height="8"/><line class="sep" x1="0" y1="620" x2="0" y2="637"/><rect class="c L" x="-5.5" y="641.5" width="11" height="8"/><rect class="c K" x="-5.5" y="649.5" width="11" height="8"/></g>
<g id="l3"><rect class="c W" x="2803.5" y="603.5" width="8" height="8"/><rect class="c B" x="2811.5" y="603.5" width="8" height="8"/></g>
<g id="m1" transform="translate(2807,0)"><rect class="c C" x="-5.5" y="705.5" width="11" height="8"/><rect class="c C" x="-5.5" y="713.5" width="11" height="8"/><rect class="c X" x="-5.5" y="721.5" width="11" height="8"/><rect class="c C" x="-5.5" y="729.5" width="11" height="8"/><rect class="c P" x="-5.5" y="737.5" width="11" height="8"/><rect class="c R" x="-5.5" y="745.5" width="11" height="8"/><line class="sep" x1="0" y1="758" x2="0" y2="774"/><rect class="c L" x="-5.5" y="778.5" width="11" height="8"/><rect class="c M" x="-5.5" y="786.5" width="11" height="8"/></g>
<g id="m2" transform="translate(2851,0)"><rect class="c T" x="-5.5" y="705.5" width="11" height="8"/><rect class="c G" x="-5.5" y="713.5" width="11" height="8"/><rect class="c W" x="-5.5" y="721.5" width="11" height="8"/><rect class="c D" x="-5.5" y="729.5" width="11" height="8"/><rect class="c O" x="-5.5" y="737.5" width="11" height="8"/><rect class="c M" x="-5.5" y="745.5" width="11" height="8"/><line class="sep" x1="0" y1="758" x2="0" y2="774"/><rect class="c L" x="-5.5" y="778.5" width="11" height="8"/><rect class="c G" x="-5.5" y="786.5" width="11" height="8"/></g>
<g id="labels">
<g id="lab-a1"><rect class="lb" x="5" y="369" width="89" height="31.5" rx="9"/><text class="t" x="49.5" y="391">35 Ξ8.965</text></g>
<g id="lab-a2"><rect class="lb" x="118.5" y="369" width="79" height="31.5" rx="9"/><text class="t" x="158" y="391">0 Ξ0.001</text></g>
<g id="lab-b1"><rect class="lb" x="220.5" y="369" width="79" height="31.5" rx="9"/><text class="t" x="260" y="391">0 Ξ0.001</text></g>
<g id="lab-b2"><rect class="lb" x="323.5" y="369" width="79" height="31.5" rx="9"/><text class="t" x="363" y="391">0 Ξ0.001</text></g>
<g id="lab-b3"><rect class="lb" x="426.5" y="369" width="79" height="31.5" rx="9"/><text class="t" x="466" y="391">0 Ξ0.001</text></g>
<g id="lab-c1"><rect class="lb" x="529" y="369" width="79" height="31.5" rx="9"/><text class="t" x="568.5" y="391">0 Ξ0.001</text></g>
<g id="lab-c2"><rect class="lb" x="631.5" y="369" width="79" height="31.5" rx="9"/><text class="t" x="671" y="391">0 Ξ0.001</text></g>
<g id="lab-d1"><rect class="lb" x="734" y="369" width="79" height="31.5" rx="9"/><text class="t" x="773.5" y="391">0 Ξ0.001</text></g>
<g id="lab-d3"><rect class="lb" x="907.5" y="369" width="79" height="31.5" rx="9"/><text class="t" x="947" y="391">0 Ξ0.001</text></g>
<g id="lab-d4"><rect class="lb" x="1010.2" y="369" width="79" height="31.5" rx="9"/><text class="t" x="1049.7" y="391">0 Ξ0.001</text></g>
<g id="lab-e1"><rect class="lb" x="1113" y="369" width="79" height="31.5" rx="9"/><text class="t" x="1152.5" y="391">0 Ξ0.001</text></g>
<g id="lab-e2"><rect class="lb" x="1216.5" y="369" width="88" height="31.5" rx="9"/><text class="t" x="1260.5" y="391">0 Ξ12.000</text></g>
<g id="lab-e3"><rect class="lb" x="1329" y="369" width="79" height="31.5" rx="9"/><text class="t" x="1368.5" y="391">0 Ξ0.001</text></g>
<g id="lab-e4"><rect class="lb" x="1431.5" y="369" width="79" height="31.5" rx="9"/><text class="t" x="1471" y="391">0 Ξ0.001</text></g>
<g id="lab-f1"><rect class="lb" x="1534" y="369" width="79" height="31.5" rx="9"/><text class="t" x="1573.5" y="391">0 Ξ0.001</text></g>
<g id="lab-f2"><rect class="lb" x="1637.1" y="369" width="79" height="31.5" rx="9"/><text class="t" x="1676.6" y="391">0 Ξ0.001</text></g>
<g id="lab-f3"><rect class="lb" x="1739" y="369" width="79" height="31.5" rx="9"/><text class="t" x="1778.5" y="391">0 Ξ0.001</text></g>
<g id="lab-g1"><rect class="lb" x="1842.5" y="369" width="79" height="31.5" rx="9"/><text class="t" x="1882" y="391">0 Ξ0.001</text></g>
<g id="lab-g2"><rect class="lb" x="1945" y="369" width="79" height="31.5" rx="9"/><text class="t" x="1984.5" y="391">0 Ξ0.001</text></g>
<g id="lab-h1"><rect class="lb" x="2048" y="369" width="79" height="31.5" rx="9"/><text class="t" x="2087.5" y="391">0 Ξ0.001</text></g>
<g id="lab-h2"><rect class="lb" x="2150.5" y="369" width="79" height="31.5" rx="9"/><text class="t" x="2190" y="391">0 Ξ0.001</text></g>
<g id="lab-i1"><rect class="lb" x="2253" y="369" width="79" height="31.5" rx="9"/><text class="t" x="2292.5" y="391">0 Ξ0.001</text></g>
<g id="lab-i2"><rect class="lb" x="2355.5" y="369" width="79" height="31.5" rx="9"/><text class="t" x="2395" y="391">0 Ξ0.001</text></g>
<g id="lab-i3"><rect class="lb" x="2458.5" y="369" width="79" height="31.5" rx="9"/><text class="t" x="2498" y="391">0 Ξ0.001</text></g>
<g id="lab-j1"><rect class="lb" x="2560.5" y="369" width="79" height="31.5" rx="9"/><text class="t" x="2600" y="391">0 Ξ0.001</text></g>
<g id="lab-j2"><rect class="lb" x="2663.5" y="369" width="79" height="31.5" rx="9"/><text class="t" x="2703" y="391">1 Ξ0.000</text></g>
<g id="lab-j3"><rect class="lb" x="2766.5" y="369" width="79" height="31.5" rx="9"/><text class="t" x="2806" y="391">0 Ξ0.001</text></g>
<g id="lab-k1"><rect class="lb" x="2868.5" y="369" width="79" height="31.5" rx="9"/><text class="t" x="2908" y="391">0 Ξ0.001</text></g>
<g id="lab-k2"><rect class="lb" x="2971.2" y="369" width="79" height="31.5" rx="9"/><text class="t" x="3010.7" y="391">0 Ξ0.001</text></g>
<g id="lab-k3"><rect class="lb" x="3077" y="369" width="79" height="31.5" rx="9"/><text class="t" x="3116.5" y="391">0 Ξ0.001</text></g>
<g id="lab-p1"><rect class="lb" x="3282.2" y="369" width="79" height="31.5" rx="9"/><text class="t" x="3321.7" y="391">0 Ξ0.001</text></g>
<g id="lab-p2"><rect class="lb" x="3384.5" y="369" width="79" height="31.5" rx="9"/><text class="t" x="3424" y="391">1 Ξ0.299</text></g>
<g id="lab-s14"><rect class="lb" x="3354.2" y="237" width="79" height="31" rx="9"/><text class="t" x="3393.7" y="258.5">0 Ξ0.002</text></g>
<g id="lab-d2a"><rect class="lb" x="768.5" y="477" width="79" height="31" rx="9"/><text class="t" x="808" y="498.5">0 Ξ0.001</text></g>
<g id="lab-d2b"><rect class="lb" x="873" y="477" width="79" height="31" rx="9"/><text class="t" x="912.5" y="498.5">0 Ξ0.001</text></g>
<g id="lab-o1"><rect class="lb" x="3077.5" y="477" width="79" height="31" rx="9"/><text class="t" x="3117" y="498.5">1 Ξ0.199</text></g>
<g id="lab-o2"><rect class="lb" x="3185.1" y="477" width="79" height="31" rx="9"/><text class="t" x="3224.6" y="498.5">0 Ξ0.001</text></g>
<g id="lab-o3"><rect class="lb" x="3278.5" y="477" width="79" height="31" rx="9"/><text class="t" x="3318" y="498.5">0 Ξ0.001</text></g>
<g id="lab-0a"><rect class="lw" x="2633.3" y="733.7" width="28" height="30.5" rx="9"/><text class="t" x="2647.3" y="755">0a</text></g>
<g id="lab-940d"><rect class="lw" x="2685.7" y="733.7" width="91.3" height="30.5" rx="9"/><text class="t" x="2731.3" y="755">940d..0e7e</text></g>
<g id="lab-03"><rect class="lw" x="2787.7" y="842.7" width="28.3" height="30.6" rx="9"/><text class="t" x="2802" y="864">03</text></g>
<g id="lab-07"><rect class="lw" x="2840.7" y="842.7" width="28.6" height="30.6" rx="9"/><text class="t" x="2855" y="864">07</text></g>
</g>
</svg>
